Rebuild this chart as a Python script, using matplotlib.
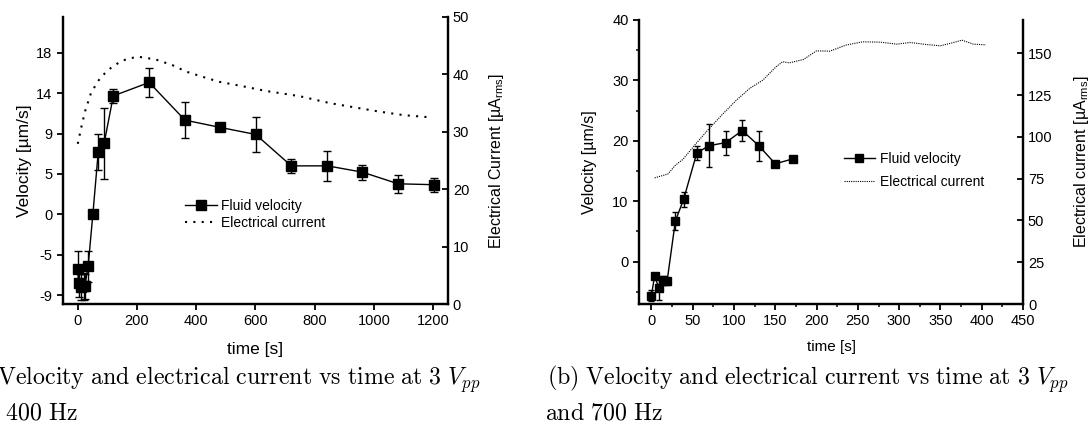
import numpy as np
import matplotlib
matplotlib.use("Agg")
import matplotlib.pyplot as plt
from matplotlib.lines import Line2D

plt.rcParams['font.family'] = ['Liberation Sans', 'DejaVu Sans']
plt.rcParams['mathtext.fontset'] = 'custom'
plt.rcParams['mathtext.rm'] = 'Liberation Sans'
plt.rcParams['mathtext.it'] = 'Liberation Sans:italic'

# ---------- (a) 3 Vpp, 400 Hz ----------
t_a = [0, 3, 11, 20, 24, 35, 51, 69, 89, 120, 241, 362, 479, 601, 721, 843, 961, 1082, 1203]
v_a = [-6.1, -7.7, -8.1, -8.0, -8.0, -5.8, 0.0, 6.9, 7.9, 13.2, 14.7, 10.5, 9.7, 8.9, 5.4, 5.4, 4.7, 3.4, 3.3]
err_a = [2.0, 1.5, 1.5, 1.5, 1.4, 1.7, 0.2, 2.0, 4.0, 0.8, 1.6, 2.0, 0.2, 2.0, 0.8, 1.7, 0.85, 1.0, 0.8]

tc_a = [0, 15, 26, 45, 71, 95, 116, 150, 201, 263, 320, 365, 420, 478, 560, 636, 700, 749, 851, 940, 1020, 1100, 1195]
cur_a = [27.9, 31.5, 33.8, 36.8, 39.0, 40.4, 41.3, 42.4, 43.1, 42.6, 41.6, 40.5, 39.6, 38.7, 37.9, 37.1, 36.6, 36.2, 35.0, 34.2, 33.5, 32.9, 32.5]

ytick_a = [-9, -4.5, 0, 4.5, 9, 13.5, 18]
ylab_a = ['-9', '-5', '0', '5', '9', '14', '18']

# ---------- (b) 3 Vpp, 700 Hz ----------
t_b = [0, 4, 9, 14, 19, 29, 39, 55, 70, 90, 110, 130, 150, 171]
v_b = [-5.6, -2.3, -4.4, -3.1, -3.25, 6.7, 10.3, 18.0, 19.2, 19.7, 21.7, 19.2, 16.2, 17.0]
err_b = [0.9, 0.3, 1.9, 0.7, 0.6, 1.5, 1.3, 1.1, 3.5, 2.0, 1.8, 2.5, 0.2, 0.3]

tc_b = [4, 20, 29, 38, 54, 70, 87, 103, 119, 135, 151, 159, 167, 184, 200, 216, 236,
        256, 277, 297, 313, 333, 350, 366, 376, 390, 405]
cur_b = [75.5, 77.8, 83.0, 86.5, 96.0, 105.0, 114.0, 122.0, 129.0, 134.0, 142.0, 145.0, 144.3,
         146.3, 151.5, 151.3, 155.0, 156.9, 156.7, 155.5, 156.5, 155.3, 154.5, 156.5, 157.9, 155.5, 155.1]

fig = plt.figure(figsize=(10.91, 4.24), dpi=100)


def style_axes(ax, ax2):
    for a in (ax, ax2):
        a.spines['top'].set_visible(False)
        for s in ('left', 'right', 'bottom'):
            a.spines[s].set_linewidth(1.6)
    ax.tick_params(axis='both', which='major', direction='out', length=4, width=1.3)
    ax.tick_params(axis='both', which='minor', direction='out', length=2.5, width=1.1)
    ax2.tick_params(axis='y', which='major', direction='in', length=4, width=1.3)


# ---- left panel ----
ax = fig.add_axes([0.0577, 0.283, 0.3529, 0.677])
ax2 = ax.twinx()
style_axes(ax, ax2)

ax.errorbar(t_a, v_a, yerr=err_a, fmt='none', ecolor='black', elinewidth=1.0, capsize=3, capthick=1.0)
ax.plot(t_a, v_a, color='black', lw=1.0, marker='s', ms=6.5)
ax2.plot(tc_a, cur_a, color='black', lw=1.5, linestyle=(0, (1, 3)))

ax.set_xlim(-50, 1250)
ax.set_ylim(-10, 22)
ax2.set_ylim(0, 50)
ax.set_xticks(range(0, 1201, 200))
ax.set_yticks(ytick_a)
ax.set_yticklabels(ylab_a)
ax2.set_yticks(range(0, 51, 10))
ax.tick_params(labelsize=10.5)
ax2.tick_params(labelsize=10.5)
ax.set_xlabel('time [s]', fontsize=12.5, labelpad=10)
ax.set_ylabel('Velocity [µm/s]', fontsize=12.5, labelpad=3)
ax2.set_ylabel(r'Electrical Current [µA$_{\mathrm{rms}}$]', fontsize=11.5, labelpad=13)

h_a = [Line2D([], [], color='black', lw=1.0, marker='s', ms=6.5),
       Line2D([], [], color='black', lw=1.5, linestyle=(0, (1, 3)))]
ax2.legend(h_a, ['Fluid velocity', 'Electrical current'], loc='center left',
           bbox_to_anchor=(0.285, 0.312), frameon=False, fontsize=10,
           handlelength=2.3, handletextpad=0.3, labelspacing=0.25)

# ---- right panel ----
bx = fig.add_axes([0.5857, 0.283, 0.352, 0.670])
bx2 = bx.twinx()
style_axes(bx, bx2)

bx.errorbar(t_b, v_b, yerr=err_b, fmt='none', ecolor='black', elinewidth=1.0, capsize=2.5, capthick=1.0)
bx.plot(t_b, v_b, color='black', lw=1.0, marker='s', ms=5.5)
bx2.plot(tc_b, cur_b, color='black', lw=0.8, linestyle=(0, (1, 1)))

bx.set_xlim(-15, 450)
bx.set_ylim(-7, 40)
bx2.set_ylim(0, 170)
bx.set_xticks(range(0, 451, 50))
bx.set_xticks(range(25, 450, 50), minor=True)
bx.set_yticks(range(0, 41, 10))
bx.set_yticks(range(-5, 40, 10), minor=True)
bx2.set_yticks(range(0, 151, 25))
bx.tick_params(labelsize=10.5)
bx2.tick_params(labelsize=10.5)
bx.set_xlabel('time [s]', fontsize=11, labelpad=8)
bx.set_ylabel('Velocity [µm/s]', fontsize=11.5, labelpad=11)
bx2.set_ylabel(r'Electrical current [µA$_{\mathrm{rms}}$]', fontsize=11.5, labelpad=14)

h_b = [Line2D([], [], color='black', lw=1.0, marker='s', ms=5.5),
       Line2D([], [], color='black', lw=0.8, linestyle=(0, (1, 1)))]
bx2.legend(h_b, ['Fluid velocity', 'Electrical current'], loc='center left',
           bbox_to_anchor=(0.50, 0.47), frameon=False, fontsize=10,
           handlelength=2.3, handletextpad=0.3, labelspacing=0.6)

# ---- captions ----
cap_kw = dict(fontsize=17.2, math_fontfamily='cm', va='baseline', ha='left')
fig.text(-40 / 1091, 1 - 385 / 424,
         r'$\mathrm{(a)\ Velocity\ and\ electrical\ current\ vs\ time\ at\ 3\ }V_{pp}$', **cap_kw)
fig.text(-40 / 1091, 1 - 419 / 424, r'$\mathrm{and\ 400\ Hz}$', **cap_kw)
fig.text(547 / 1091, 1 - 385 / 424,
         r'$\mathrm{(b)\ Velocity\ and\ electrical\ current\ vs\ time\ at\ 3\ }V_{pp}$', **cap_kw)
fig.text(545 / 1091, 1 - 419 / 424, r'$\mathrm{and\ 700\ Hz}$', **cap_kw)

fig.savefig('out.png', dpi=100)
